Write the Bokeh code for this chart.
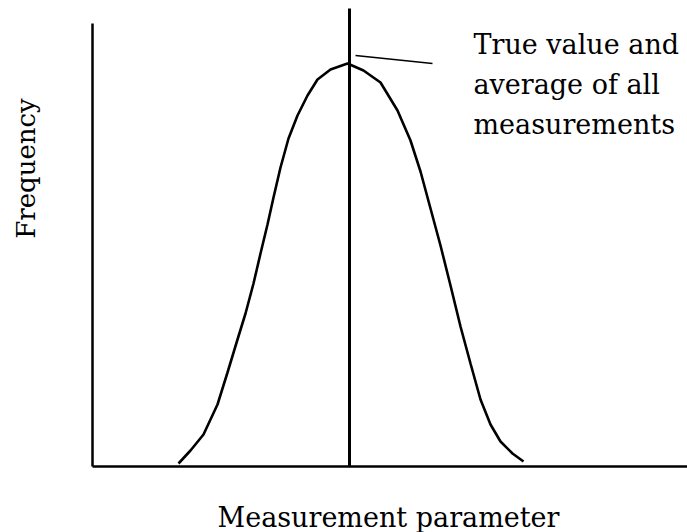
from bokeh.plotting import figure
from bokeh.models import Label, Range1d, FixedTicker
from bokeh.embed import file_html
from bokeh.resources import INLINE
import math

curve_x = [86, 98, 111, 125, 135, 145, 153, 161, 168, 175, 181, 188, 196, 205,
           215, 225, 238, 255, 271, 288, 305, 318, 328, 338, 348, 358, 368,
           378, 388, 398, 408, 420, 431]
curve_y = [3, 16, 32, 62, 94, 127, 153, 183, 213, 242, 269, 299, 328, 351,
           371, 387, 397, 403, 396, 384, 356, 326, 295, 258, 221, 181, 140,
           103, 67, 42, 25, 13, 5]
true_value_x = [257, 257]
true_value_y = [0, 458]
leader_x = [263, 340]
leader_y = [411, 403]
note_lines = ["True value and", "average of all", "measurements"]
x_label = "Measurement parameter"
y_label = "Frequency"

FONT = "DejaVu Serif"

p = figure(width=687, height=532, output_backend="svg", toolbar_location=None,
           x_range=Range1d(-92, 595), y_range=Range1d(-66, 466),
           min_border_left=0, min_border_right=0, min_border_top=0,
           min_border_bottom=0)
p.outline_line_color = None
p.background_fill_color = "white"
p.border_fill_color = "white"
p.xgrid.visible = False
p.ygrid.visible = False

for ax in (p.xaxis[0], p.yaxis[0]):
    ax.ticker = FixedTicker(ticks=[])
    ax.fixed_location = 0
    ax.axis_line_width = 2.5
    ax.axis_line_color = "black"
    ax.major_tick_line_color = None
    ax.minor_tick_line_color = None
    ax.major_tick_out = 0
    ax.major_tick_in = 0
    ax.minor_tick_out = 0
    ax.minor_tick_in = 0
    ax.major_label_standoff = 0

p.xaxis[0].bounds = (0, 595)
p.yaxis[0].bounds = (0, 443)

p.line(curve_x, curve_y, line_color="black", line_width=2.6)
p.line(true_value_x, true_value_y, line_color="black", line_width=3)
p.line(leader_x, leader_y, line_color="black", line_width=1.3)

for i, t in enumerate(note_lines):
    p.add_layout(Label(x=381, y=422 - 40 * i, text=t, text_font=FONT,
                       text_font_size="27px", text_color="black",
                       text_baseline="alphabetic", text_align="left"))

p.add_layout(Label(x=296, y=-51, text=x_label, text_font=FONT,
                   text_font_size="27px", text_color="black",
                   text_baseline="alphabetic", text_align="center"))

p.add_layout(Label(x=-67, y=298, text=y_label, angle=math.pi / 2,
                   text_font=FONT, text_font_size="26px", text_color="black",
                   text_align="center", text_baseline="middle"))

open("out.html", "w").write(file_html(p, INLINE))
